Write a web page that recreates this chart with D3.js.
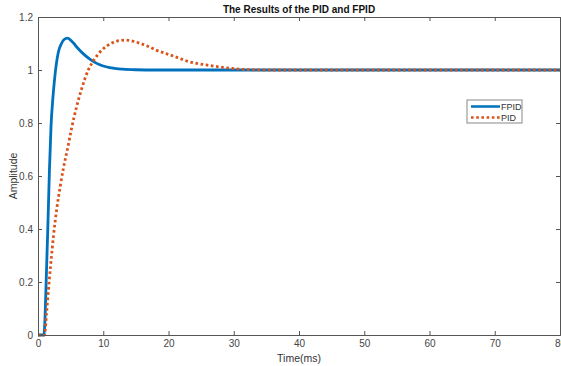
<!DOCTYPE html>
<html><head><meta charset="utf-8">
<script src="https://cdn.jsdelivr.net/npm/d3@7"></script>
<style>body{margin:0;background:#fff;}svg{display:block;font-family:"Liberation Sans",Arial,sans-serif;}</style>
</head><body>
<svg id="c" width="561" height="366"></svg>
<script>
const fpidT = [0,0.9,1.05,1.25,1.5,1.75,2.0,2.3,2.6,3.1,3.6,4.0,4.5,5.0,5.5,6.0,7.0,8.0,9.0,10,11,12,13,15,18,25,80];
const fpidV = [0,0,0.05,0.2,0.4,0.62,0.79,0.9,0.98,1.065,1.1,1.115,1.12,1.113,1.1,1.085,1.06,1.04,1.025,1.015,1.009,1.005,1.003,1.001,1.0,1.0,1.0];
const pidT = [0,1.0,1.3,1.7,2.0,2.4,2.9,3.4,3.9,4.5,5.15,5.9,6.7,7.7,8.5,9.5,10.5,11.5,12.5,13.3,14.5,15.6,17,18.1,19.5,20.7,22,23.2,25.8,28.3,31,35,40,80];
const pidV = [0,0,0.08,0.2,0.28,0.38,0.48,0.56,0.63,0.7,0.78,0.86,0.93,1.0,1.035,1.068,1.09,1.104,1.111,1.113,1.109,1.101,1.088,1.075,1.063,1.053,1.041,1.031,1.019,1.010,1.003,1.0,1.0,1.0];
const xTicks = [0,10,20,30,40,50,60,70,80];
const yTicks = [0,0.2,0.4,0.6,0.8,1,1.2];
const seriesNames = ["FPID","PID"];
const colors = ["#0072BD","#D95319"];

const L=38,R=560,T=17,B=335;
const svg=d3.select("#c");
const x=d3.scaleLinear().domain([0,80]).range([L,R]);
const y=d3.scaleLinear().domain([0,1.2]).range([B,T]);
const axCol="#555";

svg.append("rect").attr("x",L).attr("y",T).attr("width",R-L).attr("height",B-T).attr("fill","#fff");
svg.append("clipPath").attr("id","pc").append("rect").attr("x",L).attr("y",T-3).attr("width",R-L).attr("height",B-T+6);

const line=d3.line().x(d=>x(d[0])).y(d=>y(d[1])).curve(d3.curveMonotoneX);
const g=svg.append("g").attr("clip-path","url(#pc)");
g.append("path").datum(fpidT.map((t,i)=>[t,fpidV[i]])).attr("d",line).attr("fill","none").attr("stroke",colors[0]).attr("stroke-width",2.8);
g.append("path").datum(pidT.map((t,i)=>[t,pidV[i]])).attr("d",line).attr("fill","none").attr("stroke",colors[1]).attr("stroke-width",2.8).attr("stroke-dasharray","2.6,2.6");

const tl=4;
const xb=svg.append("g").attr("transform",`translate(0,${B})`).call(d3.axisBottom(x).tickValues(xTicks).tickSize(-tl).tickPadding(5).tickFormat(d3.format("d")));
const xt=svg.append("g").attr("transform",`translate(0,${T})`).call(d3.axisTop(x).tickValues(xTicks).tickSize(-tl).tickFormat(""));
const yl=svg.append("g").attr("transform",`translate(${L},0)`).call(d3.axisLeft(y).tickValues(yTicks).tickSize(-tl).tickPadding(5).tickFormat(d=>d===0||d===1?d3.format("d")(d):d3.format(".1f")(d)));
const yr=svg.append("g").attr("transform",`translate(${R},0)`).call(d3.axisRight(y).tickValues(yTicks).tickSize(-tl).tickFormat(""));
[xb,xt,yl,yr].forEach(a=>{a.selectAll("path").attr("stroke",axCol).attr("stroke-width",1);a.selectAll("line").attr("stroke",axCol);a.selectAll("text").attr("fill","#444").attr("font-size",10).attr("font-family","Liberation Sans, Arial, sans-serif");});

svg.append("text").attr("x",(L+R)/2).attr("y",13).attr("text-anchor","middle").attr("font-size",10).attr("font-weight","bold").attr("fill","#111").text("The Results of the PID and FPID");
svg.append("text").attr("x",(L+R)/2).attr("y",362).attr("text-anchor","middle").attr("font-size",10.5).attr("fill","#333").text("Time(ms)");
svg.append("text").attr("transform",`translate(17,${(T+B)/2}) rotate(-90)`).attr("text-anchor","middle").attr("font-size",10.5).attr("fill","#333").text("Amplitude");

const lg=svg.append("g");
lg.append("rect").attr("x",467).attr("y",100).attr("width",55).attr("height",23).attr("fill","#fff").attr("stroke","#888").attr("stroke-width",1);
seriesNames.forEach((n,i)=>{
  const yy=106.5+i*11;
  lg.append("line").attr("x1",471).attr("x2",500).attr("y1",yy).attr("y2",yy).attr("stroke",colors[i]).attr("stroke-width",2.5).attr("stroke-dasharray",i===1?"2.6,2.6":null);
  lg.append("text").attr("x",501).attr("y",yy+3.3).attr("font-size",9).attr("fill","#333").text(n);
});
</script>
</body></html>
